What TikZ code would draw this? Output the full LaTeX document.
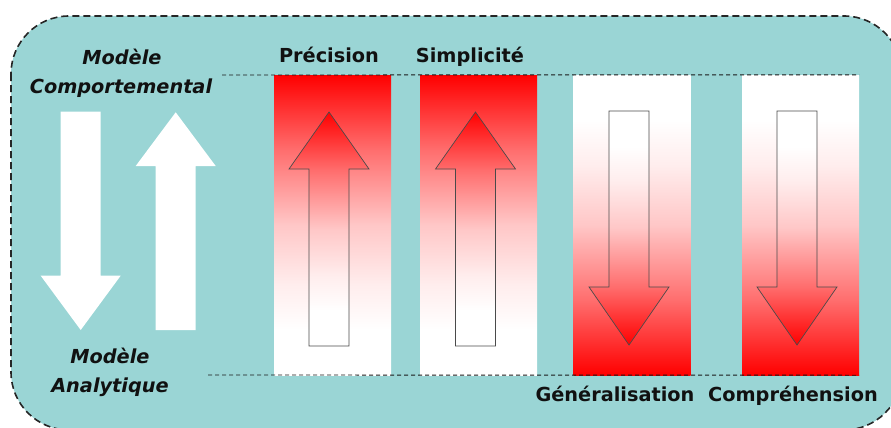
\documentclass[tikz,border=0pt]{standalone}
\usepackage{fontspec}
\setmainfont{DejaVu Sans}
\usetikzlibrary{positioning}
\definecolor{panel}  {HTML}{9AD5D5}
\definecolor{outline}{HTML}{4A4A4A}
\definecolor{inktext}{HTML}{111111}
\pgfdeclareverticalshading{risefade}{100bp}{color(0bp)=(white); color(32.5bp)=(white);
  color(40bp)=(red!7); color(50bp)=(red!22); color(62.5bp)=(red!57); color(75bp)=(red); color(100bp)=(red)}
\pgfdeclareverticalshading{fallfade}{100bp}{color(0bp)=(red); color(25bp)=(red);
  color(37.5bp)=(red!57); color(50bp)=(red!22); color(60bp)=(red!7); color(67.5bp)=(white); color(100bp)=(white)}

\begin{document}
\begin{tikzpicture}[x=1pt, y=-1pt,
    panelbox/.style={fill=panel, draw=black!85, line width=1.6pt,
      dash pattern=on 7pt off 4pt, rounded corners=58pt},
    colbox/.style={minimum width=117pt, minimum height=300pt, inner sep=0pt},
    risebox/.style={colbox, shade, shading=risefade},
    fallbox/.style={colbox, shade, shading=fallfade},
    risearrow/.style={draw=outline, line width=0.7pt, shade, shading=risefade},
    fallarrow/.style={draw=outline, line width=0.7pt, shade, shading=fallfade},
    guide/.style={draw=black!90, line width=0.9pt, dash pattern=on 4pt off 3pt},
    headtxt/.style={text=inktext, font=\bfseries\fontsize{19.3}{23}\selectfont, inner sep=0pt, anchor=base},
    modtxt/.style={headtxt, font=\bfseries\itshape\fontsize{19.3}{23}\selectfont}]
  \useasboundingbox (0,0) rectangle (891,428);
  \clip (0,0) rectangle (891,428);
  % background panel
  \draw[panelbox] (11,16) rectangle (902,430);
  % columns
  \foreach \n/\x/\s in {1/332.5/risebox, 2/478.5/risebox, 3/632/fallbox, 4/800.5/fallbox}
    \node[\s] (col\n) at (\x,225) {};
  % arrows inside the columns
  \foreach \c in {329, 475.5}
    \draw[risearrow] (\c,112) -- (\c+40,169) -- (\c+20,169) -- (\c+20,346)
      -- (\c-20,346) -- (\c-20,169) -- (\c-40,169) -- cycle;
  \foreach \c in {629, 797}
    \draw[fallarrow] (\c,345) -- (\c+40,287) -- (\c+20,287) -- (\c+20,111)
      -- (\c-20,111) -- (\c-20,287) -- (\c-40,287) -- cycle;
  % white arrows on the left
  \fill[white] (80.7,330) -- (120.7,275.7) -- (100.7,275.7) -- (100.7,111.7)
    -- (60.7,111.7) -- (60.7,275.7) -- (40.7,275.7) -- cycle;
  \fill[white] (175.7,112.3) -- (215.7,166) -- (195.7,166) -- (195.7,330)
    -- (155.7,330) -- (155.7,166) -- (135.7,166) -- cycle;
  % dashed guides
  \coordinate (topstart) at (222,75);
  \coordinate (botstart) at (208,375);
  \draw[guide] (topstart) -- (col4.north east);
  \draw[guide] (botstart) -- (col4.south east);
  % labels
  \node[headtxt] (prec) at (329,63) {Précision};
  \node[headtxt] (simp) at (470,63) {Simplicité};
  \node[headtxt] (gene) at (615,401) {Généralisation};
  \node[headtxt] (compr) at (793,401) {Compréhension};
  \node[modtxt] (behavA) at (122,65) {Modèle};
  \node[modtxt] (behavB) at (121,93) {Comportemental};
  \node[modtxt] (analA) at (110,363) {Modèle};
  \node[modtxt] (analB) at (110,392) {Analytique};
\end{tikzpicture}
\end{document}
